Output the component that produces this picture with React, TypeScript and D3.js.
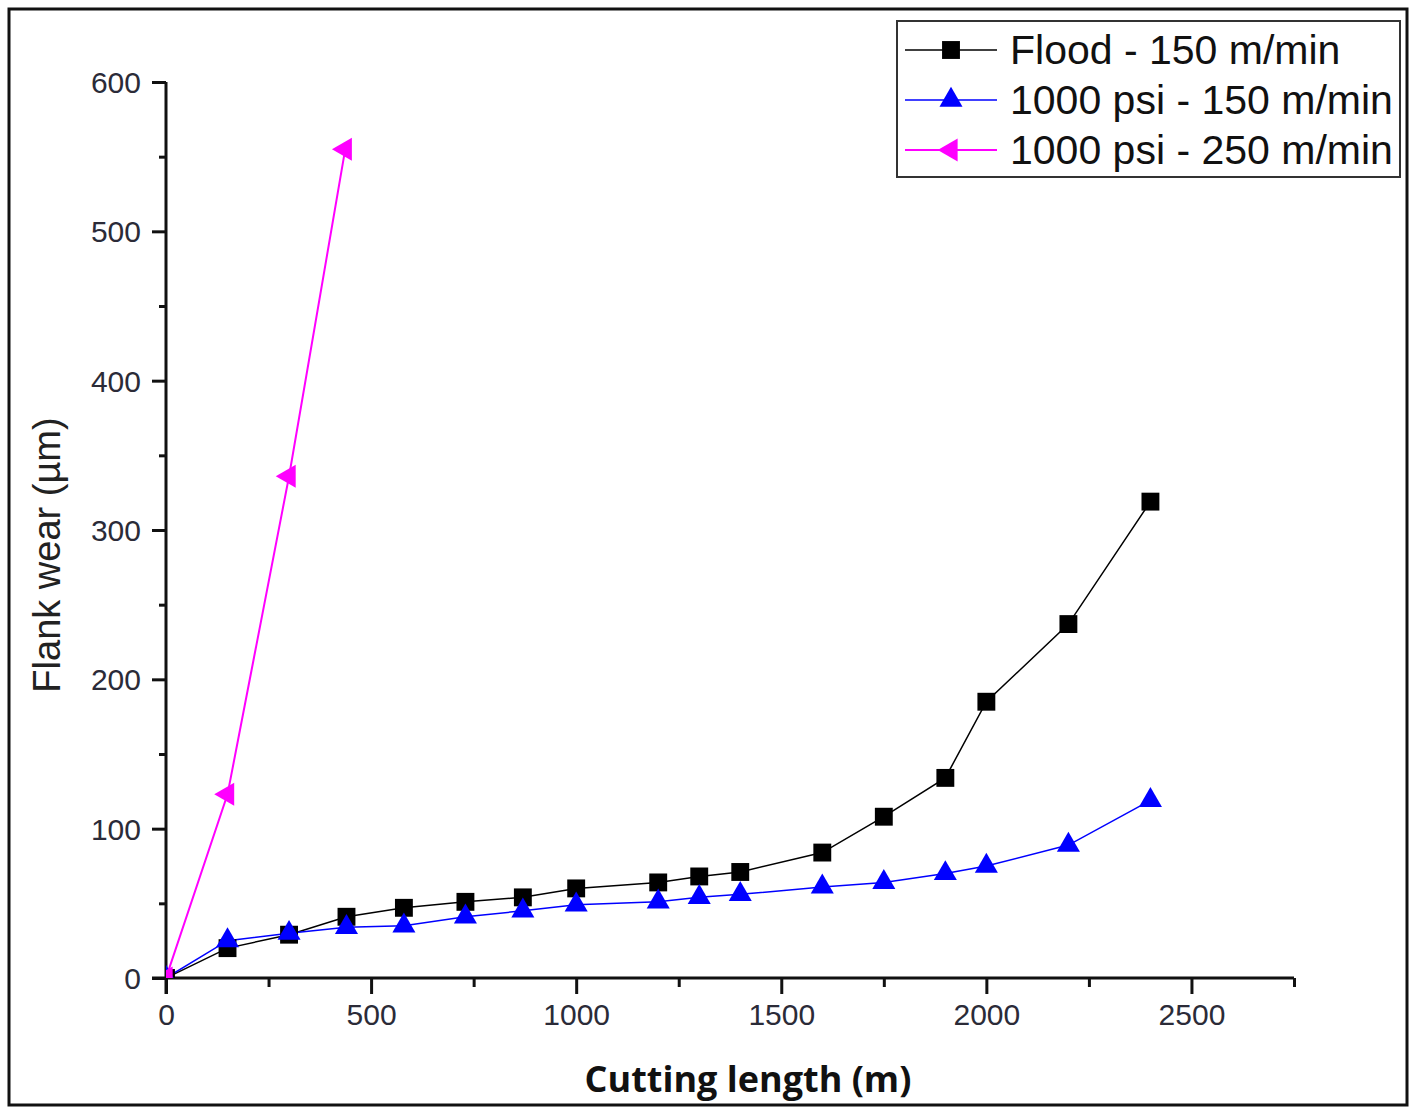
import React, { useEffect, useRef } from 'react';
import * as d3 from 'd3';

const floodX = [0, 150, 300, 440, 580, 730, 870, 1000, 1200, 1300, 1400, 1600, 1750, 1900, 2000, 2200, 2400];
const floodY = [0, 20, 29, 41, 47, 51, 54, 60, 64, 68, 71, 84, 108, 134, 185, 237, 319];
const psi150X = [0, 150, 300, 440, 580, 730, 870, 1000, 1200, 1300, 1400, 1600, 1750, 1900, 2000, 2200, 2400];
const psi150Y = [0, 25, 30, 34, 35, 41, 45, 49, 51, 54, 56, 61, 64, 70, 75, 89, 119];
const psi250X = [0, 150, 300, 437];
const psi250Y = [0, 123, 336, 555];

const seriesNames = ['Flood - 150 m/min', '1000 psi - 150 m/min', '1000 psi - 250 m/min'];
const seriesColors = ['#000000', '#0000ff', '#ff00ff'];
const xTicks = [0, 500, 1000, 1500, 2000, 2500];
const yTicks = [0, 100, 200, 300, 400, 500, 600];

const W = 1417, H = 1111;

export default function App() {
  const ref = useRef<SVGSVGElement>(null);

  useEffect(() => {
    const svg = d3.select(ref.current);
    svg.selectAll('*').remove();

    const left = 166, right = 1294, top = 82, bottom = 978;
    const x = d3.scaleLinear().domain([0, 2750]).range([left, right]);
    const y = d3.scaleLinear().domain([0, 600]).range([bottom, top]);

    svg.append('rect').attr('x', 0).attr('y', 0).attr('width', W).attr('height', H).attr('fill', '#fff');
    svg.append('rect').attr('x', 9).attr('y', 9).attr('width', 1398).attr('height', 1096)
      .attr('fill', 'none').attr('stroke', '#111').attr('stroke-width', 3);

    svg.append('clipPath').attr('id', 'plotclip').append('rect')
      .attr('x', left).attr('y', top - 20).attr('width', right - left + 20).attr('height', bottom - top + 20);

    // axes
    const tickFont = 'Liberation Sans, Arial, sans-serif';
    const xMinor = d3.range(250, 2751, 500);
    const yMinor = d3.range(50, 600, 100);

    const gx = svg.append('g').attr('transform', `translate(0,${bottom})`);
    gx.call(d3.axisBottom(x).tickValues(xTicks).tickSize(16).tickSizeOuter(0).tickPadding(10).tickFormat(d3.format('d')));
    gx.append('g').call(d3.axisBottom(x).tickValues(xMinor).tickSize(9).tickFormat(() => ''))
      .select('.domain').remove();
    gx.selectAll('.domain').attr('d', `M${left - 14},0H${right}`);

    const gy = svg.append('g').attr('transform', `translate(${left},0)`);
    gy.call(d3.axisLeft(y).tickValues(yTicks).tickSize(14).tickSizeOuter(0).tickPadding(11).tickFormat(d3.format('d')));
    gy.append('g').call(d3.axisLeft(y).tickValues(yMinor).tickSize(7).tickFormat(() => ''))
      .select('.domain').remove();
    gy.selectAll('.domain').attr('d', `M0,${top}V${bottom + 16}`);

    svg.selectAll('.domain').attr('stroke', '#111').attr('stroke-width', 3);
    svg.selectAll('.tick line').attr('stroke', '#111').attr('stroke-width', 3);
    svg.selectAll('.tick text').attr('font-family', tickFont).attr('font-size', 30).attr('fill', '#2b2b38');
    gy.selectAll('.tick text').attr('dy', '0.35em');

    // series
    const allSeries = [
      { xs: floodX, ys: floodY, sym: d3.symbolSquare, size: 320, rot: 0, lw: 1.5 },
      { xs: psi150X, ys: psi150Y, sym: d3.symbolTriangle, size: 230, rot: 0, lw: 1.5 },
      { xs: psi250X, ys: psi250Y, sym: d3.symbolTriangle, size: 230, rot: -90, lw: 2 },
    ];
    const line = d3.line<[number, number]>().x(d => x(d[0])).y(d => y(d[1]));
    const plot = svg.append('g').attr('clip-path', 'url(#plotclip)');
    allSeries.forEach((s, i) => {
      const pts: [number, number][] = s.xs.map((v, j) => [v, s.ys[j]]);
      plot.append('path').attr('d', line(pts)).attr('fill', 'none')
        .attr('stroke', seriesColors[i]).attr('stroke-width', s.lw);
    });
    allSeries.forEach((s, i) => {
      const sym = d3.symbol().type(s.sym).size(s.size);
      plot.selectAll(`.m${i}`).data(s.xs.map((v, j) => [v, s.ys[j]])).join('path')
        .attr('class', `m${i}`)
        .attr('d', sym())
        .attr('transform', d => `translate(${x(d[0])},${y(d[1])}) rotate(${s.rot})`)
        .attr('fill', seriesColors[i]);
    });

    // axis titles
    svg.append('text').text('Cutting length (m)')
      .attr('x', 748).attr('y', 1092).attr('text-anchor', 'middle')
      .attr('font-family', 'Open Sans, sans-serif').attr('font-weight', 'bold').attr('font-size', 36).attr('fill', '#111');
    svg.append('text').text('Flank wear (µm)')
      .attr('transform', `translate(60,555) rotate(-90)`).attr('text-anchor', 'middle')
      .attr('font-family', tickFont).attr('font-size', 38).attr('fill', '#222');

    // legend
    const lg = svg.append('g');
    lg.append('rect').attr('x', 897).attr('y', 21).attr('width', 503).attr('height', 156)
      .attr('fill', '#fff').attr('stroke', '#333').attr('stroke-width', 2);
    seriesNames.forEach((name, i) => {
      const ly = 50 + i * 50;
      const s = allSeries[i];
      lg.append('line').attr('x1', 905).attr('x2', 997).attr('y1', ly).attr('y2', ly)
        .attr('stroke', seriesColors[i]).attr('stroke-width', s.lw);
      lg.append('path').attr('d', d3.symbol().type(s.sym).size(s.size)())
        .attr('transform', `translate(951,${ly}) rotate(${s.rot})`).attr('fill', seriesColors[i]);
      lg.append('text').text(name).attr('x', 1010).attr('y', ly).attr('dy', '0.35em')
        .attr('font-family', tickFont).attr('font-size', 41).attr('fill', '#111');
    });
  }, []);

  return <svg ref={ref} width={W} height={H} style={{ position: 'absolute', left: 0, top: 0 }} />;
}
